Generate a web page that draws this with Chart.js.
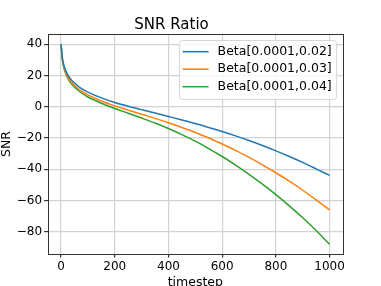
<!DOCTYPE html>
<html>
<head>
<meta charset="utf-8">
<script src="https://cdn.jsdelivr.net/npm/chart.js@4"></script>
<style>
  html, body { margin: 0; padding: 0; background: #fff; }
</style>
</head>
<body>
<canvas id="chart" width="381" height="286"></canvas>
<script>
// values
const timesteps = [0, 5, 10, 20, 30, 50, 75, 100, 150, 200, 250, 300, 350, 400, 450, 500, 550, 600, 650, 700, 750, 800, 850, 900, 950, 1000];
const snrBeta002 = [40, 31.2, 27.0, 22.2, 19.2, 15.2, 11.8, 9.4, 5.7, 2.8, 0.4, -1.8, -4.0, -6.2, -8.4, -10.7, -13.2, -15.8, -18.6, -21.6, -24.8, -28.2, -31.8, -35.6, -39.7, -43.9];
const snrBeta003 = [40, 30.6, 26.0, 20.9, 17.8, 13.6, 10.2, 7.6, 3.7, 0.6, -2.1, -4.8, -7.4, -10.2, -13.2, -16.4, -20.0, -23.8, -27.9, -32.4, -37.1, -42.2, -47.6, -53.4, -59.6, -66.0];
const snrBeta004 = [40, 30.0, 25.2, 20.0, 16.7, 12.5, 9.0, 6.3, 2.3, -1.1, -4.1, -7.2, -10.4, -13.9, -17.8, -22.0, -26.7, -31.8, -37.3, -43.2, -49.5, -56.2, -63.4, -71.0, -79.2, -88.0];
const seriesLabels = ["Beta[0.0001,0.02]", "Beta[0.0001,0.03]", "Beta[0.0001,0.04]"];
const seriesColors = ["#1f77b4", "#ff7f0e", "#2ca02c"];
const xTicks = [0, 200, 400, 600, 800, 1000];
const yTicks = [-80, -60, -40, -20, 0, 20, 40];

const FONT = "'DejaVu Sans', sans-serif";
const gridColor = "#d3d3d3";

const toPoints = (ys) => timesteps.map((t, i) => ({ x: t, y: ys[i] }));
const minus = (v) => String(v).replace("-", "\u2212");

// matplotlib-like frame and legend inside the axes
const frameAndLegend = {
  id: "frameAndLegend",
  afterDatasetsDraw(chart) {
    const { ctx, chartArea: a } = chart;
    ctx.save();
    ctx.strokeStyle = "#333";
    ctx.lineWidth = 1;
    ctx.strokeRect(Math.round(a.left) + 0.5, Math.round(a.top) + 0.5,
      Math.round(a.right - a.left), Math.round(a.bottom - a.top));

    const w = 157, h = 59;
    const x = a.right - 6.4 - w, y = a.top + 6.5;
    ctx.beginPath();
    ctx.roundRect(x, y, w, h, 3);
    ctx.fillStyle = "rgba(255,255,255,0.8)";
    ctx.fill();
    ctx.strokeStyle = "#d6d6d6";
    ctx.stroke();

    ctx.font = "12.5px " + FONT;
    ctx.textBaseline = "middle";
    chart.data.datasets.forEach((ds, i) => {
      const ly = y + 11.2 + i * 17.5;
      ctx.strokeStyle = ds.borderColor;
      ctx.lineWidth = 1.5;
      ctx.beginPath();
      ctx.moveTo(x + 3, ly);
      ctx.lineTo(x + 29, ly);
      ctx.stroke();
      ctx.fillStyle = "#000";
      ctx.fillText(ds.label, x + 38, ly);
    });
    ctx.restore();
  }
};

const data = {
  datasets: [snrBeta002, snrBeta003, snrBeta004].map((ys, i) => ({
    label: seriesLabels[i],
    data: toPoints(ys),
    borderColor: seriesColors[i],
    backgroundColor: seriesColors[i],
    borderWidth: 1.5,
    pointRadius: 0,
    cubicInterpolationMode: "monotone",
  })),
};

const config = {
  type: "line",
  data: data,
  plugins: [frameAndLegend],
  options: {
    responsive: false,
    animation: false,
    layout: { padding: { left: 0, right: 38, top: 0, bottom: 0 } },
    scales: {
      x: {
        type: "linear",
        min: -50,
        max: 1050,
        afterBuildTicks: (s) => { s.ticks = xTicks.map((v) => ({ value: v })); },
        afterFit: (s) => { s.height = 32; },
        grid: { color: gridColor, lineWidth: 1.2, tickLength: 3.5, tickColor: "#333" },
        border: { display: false },
        ticks: { font: { family: FONT, size: 12 }, color: "#000", padding: 2.5, maxRotation: 0, callback: minus },
        title: { display: true, text: "timestep", font: { family: FONT, size: 12.5 }, color: "#000", padding: { top: 0, bottom: -4 } },
      },
      y: {
        min: -94.2,
        max: 46.6,
        afterBuildTicks: (s) => { s.ticks = yTicks.map((v) => ({ value: v })); },
        afterFit: (s) => { s.width = 47.6; },
        grid: { color: gridColor, lineWidth: 1.2, tickLength: 3.5, tickColor: "#333" },
        border: { display: false },
        ticks: { font: { family: FONT, size: 12 }, color: "#000", padding: 2, callback: minus },
        title: { display: true, text: "SNR", font: { family: FONT, size: 12.5 }, color: "#000", padding: { top: -1, bottom: 0 } },
      },
    },
    plugins: {
      title: {
        display: true,
        text: "SNR Ratio",
        font: { family: FONT, size: 15, weight: "normal" },
        color: "#000",
        padding: { top: 16, bottom: 0 },
      },
      legend: { display: false },
      tooltip: { enabled: false },
    },
  },
};

new Chart(document.getElementById("chart"), config);
</script>
</body>
</html>
